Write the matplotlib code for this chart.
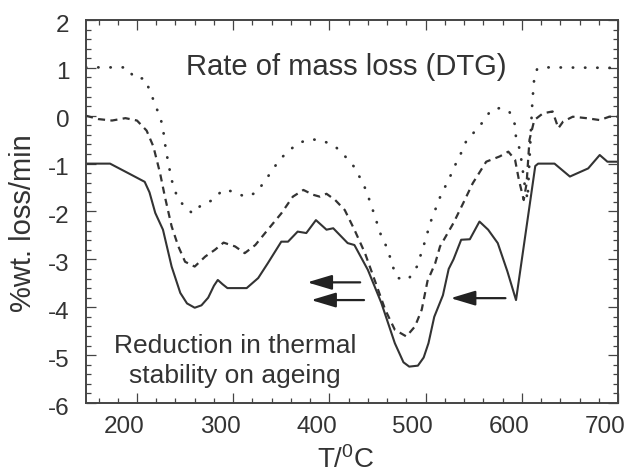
import matplotlib
matplotlib.use("Agg")
import matplotlib.pyplot as plt
from matplotlib.ticker import MultipleLocator
from matplotlib.transforms import ScaledTranslation

plt.rcParams['font.family'] = ['Liberation Sans', 'DejaVu Sans']
plt.rcParams['mathtext.fontset'] = 'custom'
plt.rcParams['mathtext.rm'] = 'Liberation Sans'
plt.rcParams['mathtext.it'] = 'Liberation Sans:italic'

# ---- data ----
solid_T = [147, 172, 191, 208, 213, 219, 227, 236, 245, 252, 260, 267, 274, 280, 284, 289, 294,
           314, 326, 336, 350, 357, 367, 376, 386, 397, 404, 419, 426, 440, 454, 468, 477, 483,
           492, 498, 503, 509, 518, 524, 529, 537, 546, 556, 565, 575, 585, 594, 614, 617,
           634, 650, 669, 681, 689, 700]
solid_y = [-1.0, -1.0, -1.2, -1.38, -1.6, -2.03, -2.38, -3.15, -3.7, -3.92, -4.01, -3.96, -3.8,
           -3.55, -3.43, -3.52, -3.6, -3.6, -3.39, -3.08, -2.63, -2.63, -2.42, -2.45, -2.18,
           -2.38, -2.35, -2.66, -2.7, -3.22, -3.91, -4.75, -5.15, -5.24, -5.22, -5.05, -4.75,
           -4.2, -3.75, -3.2, -3.0, -2.59, -2.58, -2.21, -2.38, -2.66, -3.25, -3.85, -1.05,
           -1.0, -1.0, -1.27, -1.1, -0.82, -0.96, -0.96]

dash_T = [147, 160, 174, 188, 200, 210, 217, 224, 229, 236, 243, 250, 260, 271, 281, 290, 302,
          312, 323, 336, 350, 362, 373, 383, 390, 397, 406, 416, 426, 437, 447, 458, 468, 480,
          489, 496, 502, 510, 515, 529, 539, 549, 563, 577, 586, 593, 597, 602, 605, 608, 613,
          622, 632, 638, 643, 653, 667, 681, 691, 700]
dash_y = [0.0, -0.07, -0.1, -0.05, -0.1, -0.31, -0.64, -1.2, -1.69, -2.31, -2.73, -3.05, -3.15,
          -2.94, -2.8, -2.65, -2.73, -2.87, -2.7, -2.38, -2.04, -1.69, -1.55, -1.65, -1.69,
          -1.63, -1.76, -1.97, -2.38, -2.87, -3.43, -4.05, -4.47, -4.61, -4.4, -4.05, -3.45,
          -3.08, -2.73, -2.24, -1.83, -1.41, -0.96, -0.85, -0.75, -0.92, -1.34, -1.76, -1.41,
          -0.5, -0.09, 0.05, 0.09, -0.26, -0.12, -0.02, -0.05, -0.09, -0.02, -0.02]

dot_T = [147, 189, 198, 208, 213, 219, 225, 228, 230, 233, 236, 241, 249, 258, 267, 279, 289,
         300, 312, 324, 333, 341, 348, 359, 369, 381, 393, 406, 416, 425, 432, 438, 444, 449,
         454, 461, 465, 471, 482, 491, 496, 501, 504, 508, 516, 524, 530, 536, 542, 551, 560,
         568, 577, 587, 593, 594, 598, 600, 603, 606, 609, 611, 613, 616, 627, 700]
dot_y = [1.01, 1.01, 0.78, 0.78, 0.54, 0.23, -0.09, -0.4, -0.71, -1.03, -1.34, -1.65, -1.9,
         -2.04, -1.86, -1.76, -1.55, -1.58, -1.69, -1.61, -1.36, -1.13, -0.92, -0.71, -0.56,
         -0.49, -0.52, -0.64, -0.84, -1.05, -1.3, -1.55, -1.9, -2.21, -2.52, -2.8, -3.11,
         -3.39, -3.42, -3.15, -2.84, -2.52, -2.28, -2.07, -1.65, -1.34, -1.06, -0.82, -0.54,
         -0.33, -0.12, 0.12, 0.16, 0.09, -0.19, -0.47, -0.71, -0.99, -1.44, -1.75, -0.5, 0.3,
         0.8, 0.98, 1.01, 1.0]

x_ticks = [200, 300, 400, 500, 600, 700]
y_ticks = [2, 1, 0, -1, -2, -3, -4, -5, -6]

title_text = "Rate of mass loss (DTG)"
note_text = "Reduction in thermal\nstability on ageing"

# arrows: (start T, end T, y)
arrows = [(432, 377, -3.48), (436, 381, -3.85), (583, 526, -3.81)]

# ---- figure ----
C = '#333333'
fig = plt.figure(figsize=(6.31, 4.73), dpi=100)
ax = fig.add_axes([86/631, 1 - 403/473, (618-86)/631, (403-20)/473])

ax.plot(solid_T, solid_y, color=C, lw=1.5, solid_joinstyle='round')
ax.plot(dash_T, dash_y, color=C, lw=1.6, linestyle=(0, (3.2, 2.4)))
ax.plot(dot_T, dot_y, color=C, lw=2.0, linestyle=(0, (0.1, 4.3)), dash_capstyle='round')

for x0, x1, yy in arrows:
    ax.annotate('', xy=(x1, yy), xytext=(x0, yy),
                arrowprops=dict(arrowstyle='-|>,head_length=1.5,head_width=0.45',
                                color='#222222', lw=1.6, mutation_scale=10,
                                shrinkA=0, shrinkB=0))

ax.set_xlim(147, 700)
ax.set_ylim(-6, 2)
ax.set_xticks(x_ticks)
ax.set_yticks(y_ticks)
ax.xaxis.set_minor_locator(MultipleLocator(20))
ax.yaxis.set_minor_locator(MultipleLocator(0.2))
ax.tick_params(which='both', direction='in', top=True, right=True, colors='#444444',
               labelcolor=C, labelsize=17.5, width=0.9)
ax.tick_params(which='major', length=7)
ax.tick_params(which='minor', length=3.5)
ax.tick_params(axis='x', pad=9)
ax.tick_params(axis='y', pad=12)
for s in ax.spines.values():
    s.set_linewidth(1.4)
    s.set_color('#444444')

ax.set_xticklabels([str(v) for v in x_ticks])
ax.set_yticklabels([str(v) for v in y_ticks])
for lab in ax.get_xticklabels():
    lab.set_transform(lab.get_transform() + ScaledTranslation(-13/100, 0, fig.dpi_scale_trans))
for lab in ax.get_yticklabels():
    lab.set_transform(lab.get_transform() + ScaledTranslation(0, -3/100, fig.dpi_scale_trans))

fig.text(346/631, 1 - 460/473, "T/$\\mathregular{^0}$C", ha='center', va='center',
         fontsize=20, color=C)
fig.text(23/631, 1 - 223/473, "%wt. loss/min", ha='center', va='center', rotation=90,
         fontsize=21, color=C)

ax.text((346-86)/532, (403-67)/383, title_text, transform=ax.transAxes, ha='center',
        va='center', fontsize=21, color=C)
ax.text((235-86)/532, (403-361)/383, note_text, transform=ax.transAxes, ha='center',
        va='center', fontsize=19, color=C, linespacing=1.28)

fig.savefig("out.png", dpi=100)
